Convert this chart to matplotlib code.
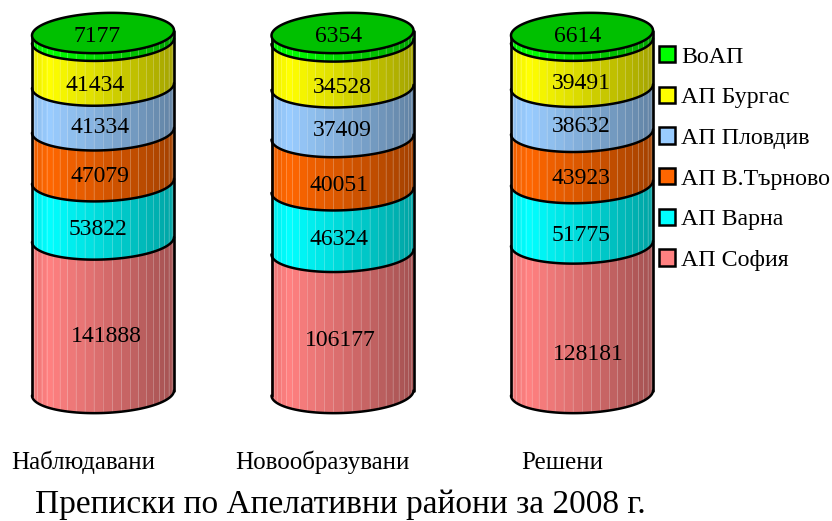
import numpy as np
import matplotlib
matplotlib.use("Agg")
import matplotlib.pyplot as plt
from matplotlib.patches import Patch

categories = ["Наблюдавани", "Новообразувани", "Решени"]
series_names = ["АП София", "АП Варна", "АП В.Търново", "АП Пловдив", "АП Бургас", "ВоАП"]
sofia = [141888, 106177, 128181]
varna = [53822, 46324, 51775]
tarnovo = [47079, 40051, 43923]
plovdiv = [41334, 37409, 38632]
burgas = [41434, 34528, 39491]
voap = [7177, 6354, 6614]
colors = ["#FF8080", "#00FFFF", "#FF6600", "#99CCFF", "#FFFF00", "#00FF00"]
title = "Преписки по Апелативни райони за 2008 г."

# label nudges in px, one row per series (right, up)
label_dx = [[3, -2, 6], [-5, -4, -1], [-3, -4, -1], [-3, 0, -1], [-8, 0, -1], [-6, -4, -4]]
label_dy = [[-20, -18, -36], [-19, -18, -22], [-21, -22, -21], [-20, -18, -17], [-22, -23, -20], [-4, -4, -4]]

W, H = 832, 521
SPACING = 239.5   # px between cylinders
HALF_W = 71 / SPACING
ELL_H = 20 / 360
TILT = 2.5 / 360
FONT = "Liberation Serif"

plt.rcParams["font.family"] = FONT
fig = plt.figure(figsize=(W / 100, H / 100), dpi=100)
# axes spans the full width, share 0..1 runs from y=393 to y=33 px
ax = fig.add_axes([0, (H - 393) / H, 1, 360 / H])
ax.set_xlim(-103 / SPACING, (W - 103) / SPACING)
ax.set_ylim(0, 1)
for s in ax.spines.values():
    s.set_visible(False)
ax.set_yticks([])
ax.patch.set_alpha(0)

angles = np.linspace(np.pi, 2 * np.pi, 25)


def curve(x0, y, t):
    return x0 + HALF_W * np.cos(t), y + ELL_H * np.sin(t) + TILT * np.cos(t)


def shade(color, u):
    # left edge a bit dark, brightest near 12%, dark on the right
    if u < 0.12:
        b = 0.92 + 0.08 * u / 0.12
    else:
        b = 1.0 - 0.36 * (u - 0.12) / 0.88
    return tuple(c * b for c in matplotlib.colors.to_rgb(color))


def draw_band(x0, lo, hi, color):
    for a, b in zip(angles[:-1], angles[1:]):
        t = np.linspace(a, b, 6)
        xl, yl = curve(x0, lo, t)
        xh, yh = curve(x0, hi, t)
        u = (np.cos((a + b) / 2) + 1) / 2
        ax.fill(np.r_[xl, xh[::-1]], np.r_[yl, yh[::-1]], color=shade(color, u), lw=0.3, clip_on=False)
        ax.plot([xl[-1], xh[-1]], [yl[-1], yh[-1]], color="white", alpha=0.2, lw=0.7, clip_on=False)
    t = np.linspace(np.pi, 2 * np.pi, 80)
    xb, yb = curve(x0, lo, t)
    ax.plot(xb, yb, color="black", lw=1.8, clip_on=False, zorder=3, solid_capstyle="round")


data = np.array([sofia, varna, tarnovo, plovdiv, burgas, voap], dtype=float)
shares = data / data.sum(axis=0)
cum = np.cumsum(shares, axis=0)

for i in range(3):
    lo = 0.0
    for j in range(6):
        hi = cum[j, i]
        draw_band(i, lo, hi, colors[j])
        ypos = 1.0 if j == 5 else (lo + hi) / 2
        ax.annotate(f"{int(data[j, i])}", (i, ypos), xytext=(label_dx[j][i], label_dy[j][i]),
                    textcoords="offset pixels", ha="center", va="center", fontsize=17, zorder=6)
        lo = hi
    # side edges
    for ang in (np.pi, 0.0):
        xs, ys = curve(i, 0, np.array([ang]))
        ax.plot([xs[0], xs[0]], [ys[0], ys[0] + 1], color="black", lw=1.9, clip_on=False, zorder=4,
                solid_capstyle="round")
    # top cap
    t = np.linspace(0, 2 * np.pi, 160)
    xt, yt = curve(i, 1.0, t)
    ax.fill(xt, yt, facecolor="#00C000", edgecolor="black", lw=1.8, clip_on=False, zorder=5)

ax.set_xticks(np.arange(3) - 20 / SPACING, categories, fontsize=18)
ax.tick_params(axis="x", length=0, pad=55)
for lab in ax.get_xticklabels():
    lab.set_va("baseline")

handles = [Patch(facecolor=c, edgecolor="black", lw=1.8) for c in colors[::-1]]
fig.legend(handles, series_names[::-1], loc="upper left", bbox_to_anchor=(659 / W, 1 - 46 / H),
           frameon=False, fontsize=17.2, handlelength=0.68, handleheight=0.68, handletextpad=0.25,
           labelspacing=0.8, borderpad=0, borderaxespad=0)

fig.text(35 / W, 1 - 513 / H, title, fontsize=24, va="baseline", ha="left")

fig.savefig("out.png", dpi=100)
